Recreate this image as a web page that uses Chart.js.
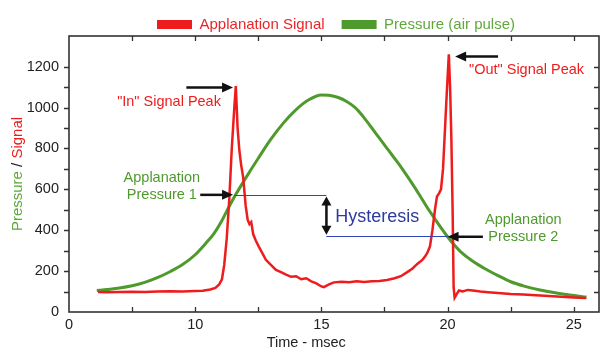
<!DOCTYPE html>
<html>
<head>
<meta charset="utf-8">
<script src="https://cdn.jsdelivr.net/npm/chart.js@4.4.0/dist/chart.umd.min.js"></script>
<style>
  html, body { margin: 0; padding: 0; background: #fff; }
</style>
</head>
<body>
<canvas id="myChart" width="603" height="352"></canvas>
<script>
// applanation signal (red)
let signalTime = [6.15, 6.5, 7, 7.5, 8, 8.5, 9, 9.5, 10, 10.3, 10.6, 10.8, 10.95, 11.06, 11.15, 11.25, 11.35, 11.45,
    11.55, 11.61, 11.68, 11.75, 11.82, 11.9, 12.0, 12.08, 12.15, 12.22, 12.3, 12.4, 12.52, 12.65, 12.8, 13.0, 13.2,
    13.4, 13.6, 13.8, 14.0, 14.2, 14.4, 14.6, 14.8, 15.0, 15.1, 15.3, 15.5, 15.8, 16.1, 16.4, 16.7, 17.0, 17.3, 17.6,
    17.9, 18.15, 18.4, 18.6, 18.8, 19.0, 19.1, 19.2, 19.3, 19.4, 19.5, 19.58, 19.66, 19.74, 19.82, 19.9, 19.98, 20.05,
    20.1, 20.15, 20.2, 20.24, 20.28, 20.35, 20.45, 20.6, 20.8, 21.0, 21.3, 21.6, 22.0, 22.5, 23.0, 23.5, 24.0, 24.5,
    25.0, 25.5];
let signalValues = [98, 97, 98, 99, 98, 100, 101, 100, 103, 104, 110, 118, 135, 160, 230, 360, 550, 800,
    1000, 1105, 900, 790, 720, 660, 520, 450, 430, 440, 380, 350, 320, 290, 255, 230, 206,
    195, 183, 172, 175, 160, 165, 150, 140, 125, 122, 135, 145, 148, 145, 150, 147, 150, 152, 157,
    165, 175, 195, 212, 235, 255, 270, 290, 320, 400, 500, 565, 580, 600, 700, 900, 1100, 1260,
    1100, 850, 500, 120, 70, 85, 105, 100, 108, 105, 100, 97, 93, 88, 85, 82, 78, 74,
    71, 68];

// air pulse pressure (green)
let pressureTime = [6.1, 6.5, 7, 7.5, 8, 8.5, 9, 9.5, 10, 10.4, 10.75, 11.05, 11.3, 11.6, 12.0, 12.5, 13.0,
    13.5, 14.0, 14.5, 15.0, 15.3, 15.67, 16.0, 16.34, 16.65, 16.97, 17.3, 17.64, 18.0, 18.3, 18.6, 18.9,
    19.2, 19.5, 19.75, 20.0, 20.25, 20.5, 21.0, 21.45, 22.0, 22.5, 23.0, 23.66, 24.2, 24.84, 25.5];
let pressureValues = [105, 110, 117, 128, 145, 168, 197, 232, 280, 333, 385, 445, 505, 573, 655, 752, 845,
    925, 990, 1038, 1062, 1060, 1049, 1030, 1000, 957, 905, 850, 794, 735, 683, 628, 570,
    510, 455, 410, 368, 330, 297, 248, 214, 178, 148, 128, 108, 95, 83, 73];

let seriesNames = ["Applanation Signal", "Pressure (air pulse)"];

const RED = "#ee1c1c";
const GREEN = "#4f9a2c";
const BLUE = "#3346b8";
const FONT = '"Liberation Sans", Arial, sans-serif';

function toPoints(xs, ys) {
    return xs.map((x, i) => ({x: x, y: ys[i]}));
}

// annotations, in data units
const hysteresisLines = [[11.55, 15.2, 573], [15.2, 20.0, 370]];
const arrows = [[9.65, 11.5, 1098], [22.0, 20.3, 1250], [10.2, 11.5, 573], [21.4, 20.0, 368]];
const notes = [
    ['"In" Signal Peak', 11.02, 1027, RED, 'right', 14.5],
    ['"Out" Signal Peak', 20.85, 1184, RED, 'left', 14.5],
    ['Applanation', 8.68, 656, GREEN, 'center', 14.5],
    ['Pressure 1', 8.68, 572, GREEN, 'center', 14.5],
    ['Applanation', 23.0, 450, GREEN, 'center', 14.5],
    ['Pressure 2', 23.0, 367, GREEN, 'center', 14.5],
    ['Hysteresis', 15.55, 465, '#2d3a9e', 'left', 18]
];

function arrowHead(ctx, tipX, tipY, dir, len, half) {
    ctx.beginPath();
    ctx.moveTo(tipX, tipY);
    ctx.lineTo(tipX - dir * len, tipY - half);
    ctx.lineTo(tipX - dir * len, tipY + half);
    ctx.closePath();
    ctx.fill();
}

const extras = {
    id: 'extras',
    afterLayout(chart) {
        // legend is centred over the plot, not the canvas
        chart.legend.left = chart.chartArea.left;
    },
    afterDatasetsDraw(chart) {
        const {ctx, chartArea: a, scales: {x, y}} = chart;
        ctx.save();

        // frame + ticks
        ctx.strokeStyle = '#333';
        ctx.lineWidth = 1.6;
        ctx.strokeRect(a.left, a.top, a.right - a.left, a.bottom - a.top);
        ctx.lineWidth = 1.3;
        ctx.beginPath();
        x.ticks.forEach(t => {
            if (t.value <= x.min || t.value >= x.max) return;
            const px = Math.round(x.getPixelForValue(t.value)) + 0.5;
            ctx.moveTo(px, a.bottom); ctx.lineTo(px, a.bottom - 5);
            ctx.moveTo(px, a.top); ctx.lineTo(px, a.top + 5);
        });
        y.ticks.forEach(t => {
            if (t.value <= y.min || t.value >= y.max) return;
            const py = Math.round(y.getPixelForValue(t.value)) + 0.5;
            ctx.moveTo(a.left - 5, py); ctx.lineTo(a.left, py);
            ctx.moveTo(a.right, py); ctx.lineTo(a.right - 5, py);
        });
        ctx.stroke();

        // hysteresis lines
        ctx.strokeStyle = BLUE;
        ctx.lineWidth = 1;
        ctx.beginPath();
        hysteresisLines.forEach(([x0, x1, v]) => {
            const py = Math.round(y.getPixelForValue(v)) + 0.5;
            ctx.moveTo(x.getPixelForValue(x0), py);
            ctx.lineTo(x.getPixelForValue(x1), py);
        });
        ctx.stroke();

        // double arrow
        ctx.fillStyle = '#111';
        ctx.strokeStyle = '#111';
        ctx.lineWidth = 2.5;
        const dx = x.getPixelForValue(15.2);
        const dTop = y.getPixelForValue(565), dBot = y.getPixelForValue(378);
        ctx.beginPath();
        ctx.moveTo(dx, dTop + 6); ctx.lineTo(dx, dBot - 6);
        ctx.stroke();
        ctx.beginPath();
        ctx.moveTo(dx, dTop); ctx.lineTo(dx - 5, dTop + 9); ctx.lineTo(dx + 5, dTop + 9); ctx.closePath(); ctx.fill();
        ctx.beginPath();
        ctx.moveTo(dx, dBot); ctx.lineTo(dx - 5, dBot - 9); ctx.lineTo(dx + 5, dBot - 9); ctx.closePath(); ctx.fill();

        // arrows
        arrows.forEach(([x0, x1, v]) => {
            const p0 = x.getPixelForValue(x0), p1 = x.getPixelForValue(x1), py = y.getPixelForValue(v);
            const dir = p1 > p0 ? 1 : -1;
            ctx.beginPath();
            ctx.moveTo(p0, py); ctx.lineTo(p1 - dir * 8, py);
            ctx.stroke();
            arrowHead(ctx, p1, py, dir, 11, 5);
        });

        // notes
        ctx.textBaseline = 'middle';
        notes.forEach(([text, nx, ny, color, align, size]) => {
            ctx.font = size + 'px ' + FONT;
            ctx.fillStyle = color;
            ctx.textAlign = align;
            ctx.fillText(text, x.getPixelForValue(nx), y.getPixelForValue(ny));
        });

        // axis titles
        ctx.font = '14.5px ' + FONT;
        ctx.fillStyle = '#222';
        ctx.textAlign = 'center';
        ctx.fillText('Time - msec', x.getPixelForValue(14.4), 343);

        ctx.translate(18, (a.top + a.bottom) / 2);
        ctx.rotate(-Math.PI / 2);
        ctx.font = '15px ' + FONT;
        ctx.textAlign = 'left';
        const parts = [['Pressure', '#5fa83a'], [' / ', '#222'], ['Signal', RED]];
        const w = parts.reduce((s, p) => s + ctx.measureText(p[0]).width, 0);
        let cx = -w / 2;
        parts.forEach(([t, c]) => {
            ctx.fillStyle = c;
            ctx.fillText(t, cx, 0);
            cx += ctx.measureText(t).width;
        });
        ctx.restore();
    }
};

new Chart(document.getElementById("myChart"), {
    type: 'line',
    data: {
        datasets: [{
            label: seriesNames[0],
            data: toPoints(signalTime, signalValues),
            borderColor: RED,
            backgroundColor: RED,
            borderWidth: 2.5,
            pointRadius: 0,
            tension: 0,
            fill: false
        }, {
            label: seriesNames[1],
            data: toPoints(pressureTime, pressureValues),
            borderColor: GREEN,
            backgroundColor: GREEN,
            borderWidth: 3,
            pointRadius: 0,
            cubicInterpolationMode: 'monotone',
            fill: false
        }]
    },
    options: {
        responsive: false,
        animation: false,
        layout: { padding: { left: 0, right: 0, top: 0, bottom: 0 } },
        plugins: {
            tooltip: { enabled: false },
            legend: {
                maxHeight: 36,
                labels: {
                    boxWidth: 35,
                    boxHeight: 9,
                    padding: 17,
                    font: { size: 15, family: FONT },
                    generateLabels(chart) {
                        const items = Chart.defaults.plugins.legend.labels.generateLabels(chart);
                        items.forEach(it => {
                            it.fontColor = it.strokeStyle === RED ? '#e8262a' : '#5fa83a';
                            it.lineWidth = 0;
                        });
                        return items;
                    }
                }
            }
        },
        scales: {
            x: {
                type: 'linear',
                min: 5,
                max: 26,
                grid: { display: false, drawTicks: false },
                border: { display: false },
                afterFit(axis) { axis.height = 40; },
                ticks: {
                    stepSize: 2.5,
                    autoSkip: false,
                    maxRotation: 0,
                    padding: 4,
                    color: '#222',
                    font: { size: 14.5, family: FONT },
                    callback: (v) => v % 5 === 0 ? (v === 5 ? '0' : String(v)) : ''
                }
            },
            y: {
                min: 0,
                max: 1350,
                grid: { display: false, drawTicks: false },
                border: { display: false },
                afterFit(axis) { axis.width = 69; },
                ticks: {
                    stepSize: 100,
                    autoSkip: false,
                    padding: 10,
                    color: '#222',
                    font: { size: 14.5, family: FONT },
                    callback: (v) => v % 200 === 0 ? String(v) : ''
                }
            }
        }
    },
    plugins: [extras]
});
</script>
</body>
</html>
